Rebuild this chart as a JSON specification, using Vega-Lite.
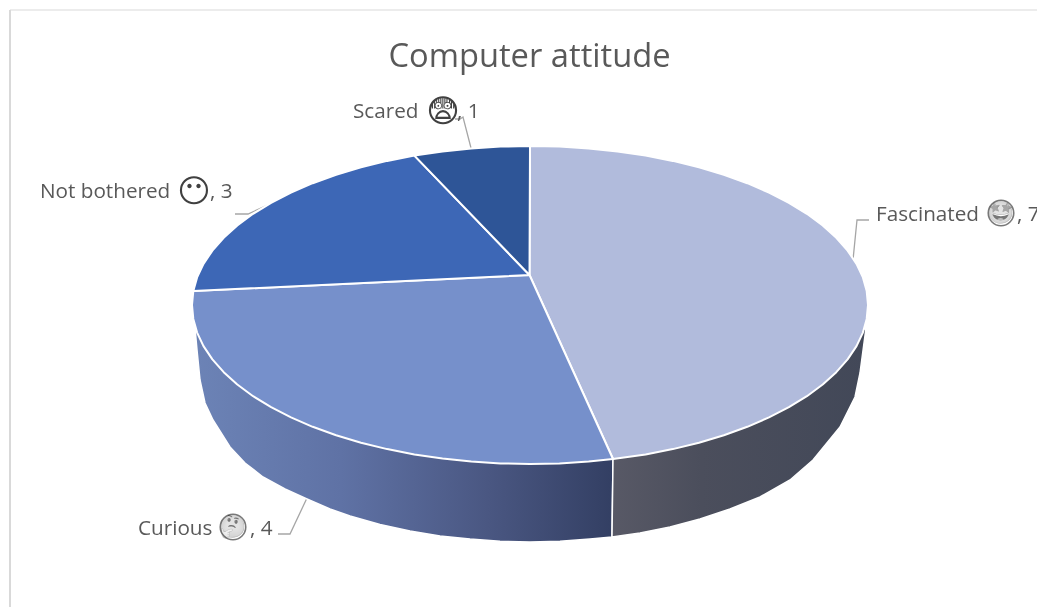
{
"$schema":"https://vega.github.io/schema/vega-lite/v6.json",
"width":1037,"height":607,"padding":0,"autosize":"none",
"background":"#ffffff",
"view":{"stroke":null},
"title":{"text":"Computer attitude","font":"Open Sans","fontSize":32.7,"fontWeight":"normal","color":"#595959","anchor":"middle","baseline":"middle","dx":11,"dy":89.5,"offset":0},
"datasets":{
"top":[
{"slice":"Fascinated","seq":0,"x":529.5,"y":275},{"slice":"Fascinated","seq":1,"x":530,"y":146},{"slice":"Fascinated","seq":2,"x":559.5,"y":146.6},{"slice":"Fascinated","seq":3,"x":588.7,"y":148.4},{"slice":"Fascinated","seq":4,"x":617.5,"y":151.4},{"slice":"Fascinated","seq":5,"x":645.6,"y":155.6},{"slice":"Fascinated","seq":6,"x":672.8,"y":160.9},{"slice":"Fascinated","seq":7,"x":699,"y":167.3},{"slice":"Fascinated","seq":8,"x":723.9,"y":174.7},{"slice":"Fascinated","seq":9,"x":747.3,"y":183.2},{"slice":"Fascinated","seq":10,"x":769,"y":192.6},{"slice":"Fascinated","seq":11,"x":788.9,"y":202.8},{"slice":"Fascinated","seq":12,"x":806.9,"y":213.8},{"slice":"Fascinated","seq":13,"x":822.7,"y":225.5},{"slice":"Fascinated","seq":14,"x":836.3,"y":237.8},{"slice":"Fascinated","seq":15,"x":847.6,"y":250.6},{"slice":"Fascinated","seq":16,"x":856.5,"y":263.9},{"slice":"Fascinated","seq":17,"x":862.9,"y":277.4},{"slice":"Fascinated","seq":18,"x":866.7,"y":291.1},{"slice":"Fascinated","seq":19,"x":868,"y":305},{"slice":"Fascinated","seq":20,"x":866.7,"y":318.9},{"slice":"Fascinated","seq":21,"x":862.9,"y":332.6},{"slice":"Fascinated","seq":22,"x":856.5,"y":346.1},{"slice":"Fascinated","seq":23,"x":847.6,"y":359.4},{"slice":"Fascinated","seq":24,"x":836.3,"y":372.2},{"slice":"Fascinated","seq":25,"x":822.7,"y":384.5},{"slice":"Fascinated","seq":26,"x":806.9,"y":396.2},{"slice":"Fascinated","seq":27,"x":788.9,"y":407.2},{"slice":"Fascinated","seq":28,"x":769,"y":417.4},{"slice":"Fascinated","seq":29,"x":747.3,"y":426.8},{"slice":"Fascinated","seq":30,"x":723.9,"y":435.3},{"slice":"Fascinated","seq":31,"x":699,"y":442.7},{"slice":"Fascinated","seq":32,"x":672.8,"y":449.1},{"slice":"Fascinated","seq":33,"x":645.6,"y":454.4},{"slice":"Fascinated","seq":34,"x":613,"y":459},{"slice":"Fascinated","seq":35,"x":529.5,"y":275},
{"slice":"Curious","seq":0,"x":529.5,"y":275},{"slice":"Curious","seq":1,"x":613,"y":459},{"slice":"Curious","seq":2,"x":588.7,"y":461.6},{"slice":"Curious","seq":3,"x":559.5,"y":463.4},{"slice":"Curious","seq":4,"x":530,"y":464},{"slice":"Curious","seq":5,"x":500.5,"y":463.4},{"slice":"Curious","seq":6,"x":471.3,"y":461.6},{"slice":"Curious","seq":7,"x":442.5,"y":458.6},{"slice":"Curious","seq":8,"x":414.4,"y":454.4},{"slice":"Curious","seq":9,"x":387.2,"y":449.1},{"slice":"Curious","seq":10,"x":361,"y":442.7},{"slice":"Curious","seq":11,"x":336.1,"y":435.3},{"slice":"Curious","seq":12,"x":312.7,"y":426.8},{"slice":"Curious","seq":13,"x":291,"y":417.4},{"slice":"Curious","seq":14,"x":271.1,"y":407.2},{"slice":"Curious","seq":15,"x":253.1,"y":396.2},{"slice":"Curious","seq":16,"x":237.3,"y":384.5},{"slice":"Curious","seq":17,"x":223.7,"y":372.2},{"slice":"Curious","seq":18,"x":212.4,"y":359.4},{"slice":"Curious","seq":19,"x":203.5,"y":346.1},{"slice":"Curious","seq":20,"x":197.1,"y":332.6},{"slice":"Curious","seq":21,"x":193.3,"y":318.9},{"slice":"Curious","seq":22,"x":192,"y":305},{"slice":"Curious","seq":23,"x":193.3,"y":291.1},{"slice":"Curious","seq":24,"x":529.5,"y":275},
{"slice":"Not bothered","seq":0,"x":529.5,"y":275},{"slice":"Not bothered","seq":1,"x":193.3,"y":291.1},{"slice":"Not bothered","seq":2,"x":197.1,"y":277.4},{"slice":"Not bothered","seq":3,"x":203.5,"y":263.9},{"slice":"Not bothered","seq":4,"x":212.4,"y":250.6},{"slice":"Not bothered","seq":5,"x":223.7,"y":237.8},{"slice":"Not bothered","seq":6,"x":237.3,"y":225.5},{"slice":"Not bothered","seq":7,"x":253.1,"y":213.8},{"slice":"Not bothered","seq":8,"x":271.1,"y":202.8},{"slice":"Not bothered","seq":9,"x":291,"y":192.6},{"slice":"Not bothered","seq":10,"x":312.7,"y":183.2},{"slice":"Not bothered","seq":11,"x":336.1,"y":174.7},{"slice":"Not bothered","seq":12,"x":361,"y":167.3},{"slice":"Not bothered","seq":13,"x":387.2,"y":160.9},{"slice":"Not bothered","seq":14,"x":414.4,"y":155.6},{"slice":"Not bothered","seq":15,"x":529.5,"y":275},
{"slice":"Scared","seq":0,"x":529.5,"y":275},{"slice":"Scared","seq":1,"x":414.4,"y":155.6},{"slice":"Scared","seq":2,"x":442.5,"y":151.4},{"slice":"Scared","seq":3,"x":471.3,"y":148.4},{"slice":"Scared","seq":4,"x":500.5,"y":146.6},{"slice":"Scared","seq":5,"x":530,"y":146},{"slice":"Scared","seq":6,"x":529.5,"y":275}
],
"wallLeft":[
{"seq":0,"x":613,"y":459},{"seq":1,"x":612,"y":537},{"seq":2,"x":590,"y":539},{"seq":3,"x":560,"y":541.3},{"seq":4,"x":530,"y":542},{"seq":5,"x":500,"y":541.3},{"seq":6,"x":470,"y":539},{"seq":7,"x":440,"y":536},{"seq":8,"x":410,"y":531},{"seq":9,"x":380,"y":524.5},{"seq":10,"x":350,"y":516},{"seq":11,"x":330,"y":509},{"seq":12,"x":307,"y":499},{"seq":13,"x":285,"y":489},{"seq":14,"x":263,"y":477},{"seq":15,"x":245,"y":463},{"seq":16,"x":230,"y":447},{"seq":17,"x":213,"y":420},{"seq":18,"x":205,"y":403},{"seq":19,"x":200,"y":380},{"seq":20,"x":197,"y":350},{"seq":21,"x":195,"y":328},{"seq":22,"x":613,"y":459}
],
"wallRight":[
{"seq":0,"x":613,"y":459},{"seq":1,"x":612,"y":537},{"seq":2,"x":640,"y":533},{"seq":3,"x":670,"y":527},{"seq":4,"x":700,"y":519},{"seq":5,"x":730,"y":509},{"seq":6,"x":760,"y":497},{"seq":7,"x":790,"y":480},{"seq":8,"x":813,"y":460},{"seq":9,"x":840,"y":427},{"seq":10,"x":855,"y":397},{"seq":11,"x":860,"y":373},{"seq":12,"x":866,"y":328},{"seq":13,"x":613,"y":459}
],
"leaders":[
{"slice":"Fascinated","seq":0,"x":869,"y":220},{"slice":"Fascinated","seq":1,"x":857,"y":220},{"slice":"Fascinated","seq":2,"x":853,"y":260},
{"slice":"Scared","seq":0,"x":455,"y":119},{"slice":"Scared","seq":1,"x":460,"y":119},{"slice":"Scared","seq":2,"x":463,"y":117},{"slice":"Scared","seq":3,"x":471,"y":148},
{"slice":"Not bothered","seq":0,"x":235,"y":214},{"slice":"Not bothered","seq":1,"x":248,"y":214},{"slice":"Not bothered","seq":2,"x":270,"y":204},
{"slice":"Curious","seq":0,"x":278,"y":534},{"slice":"Curious","seq":1,"x":290,"y":534},{"slice":"Curious","seq":2,"x":307,"y":498}
],
"names":[
{"slice":"Fascinated","label":"Fascinated","x":876,"y":214.5},
{"slice":"Curious","label":"Curious","x":138,"y":528.5},
{"slice":"Not bothered","label":"Not bothered","x":40,"y":191.5},
{"slice":"Scared","label":"Scared","x":353,"y":111.5}
],
"values":[
{"slice":"Fascinated","value":7,"label":", 7","x":1017,"y":214.5},
{"slice":"Curious","value":4,"label":", 4","x":250,"y":528.5},
{"slice":"Not bothered","value":3,"label":", 3","x":210,"y":191.5},
{"slice":"Scared","value":1,"label":", 1","x":457,"y":111.5}
],
"outlineFaces":[
{"slice":"Not bothered","label":"😶","x":194,"y":192},
{"slice":"Scared","label":"😨","x":443,"y":112}
],
"colourFaces":[
{"slice":"Fascinated","label":"🤩","x":1001,"y":213},
{"slice":"Curious","label":"🤔","x":233,"y":527}
],
"frameTop":[{"x":10,"y":10,"x2":1037}],
"frameLeft":[{"x":10,"y":10,"y2":607}]
},
"encoding":{
"x":{"field":"x","type":"quantitative","scale":{"domain":[0,1037],"nice":false,"zero":false},"axis":null},
"y":{"field":"y","type":"quantitative","scale":{"domain":[607,0],"nice":false,"zero":false},"axis":null}
},
"layer":[
{"data":{"name":"frameTop"},"mark":{"type":"rule","color":"#d9d9d9","strokeWidth":1},"encoding":{"x2":{"field":"x2"}}},
{"data":{"name":"frameLeft"},"mark":{"type":"rule","color":"#d9d9d9","strokeWidth":2},"encoding":{"y2":{"field":"y2"}}},
{"data":{"name":"leaders"},"mark":{"type":"line","color":"#a6a6a6","strokeWidth":1.3},"encoding":{"detail":{"field":"slice"},"order":{"field":"seq"}}},
{"data":{"name":"wallLeft"},"mark":{"type":"line","stroke":"#ffffff","strokeWidth":1.5,"fill":{"gradient":"linear","x1":0,"y1":0,"x2":1,"y2":0,"stops":[{"offset":0,"color":"#6c83b6"},{"offset":0.35,"color":"#5f72a5"},{"offset":0.7,"color":"#4a5782"},{"offset":1,"color":"#333f63"}]}},"encoding":{"order":{"field":"seq"}}},
{"data":{"name":"wallRight"},"mark":{"type":"line","stroke":"#ffffff","strokeWidth":1.5,"fill":{"gradient":"linear","x1":0,"y1":0,"x2":1,"y2":0,"stops":[{"offset":0,"color":"#585966"},{"offset":0.35,"color":"#4b4e5c"},{"offset":1,"color":"#424858"}]}},"encoding":{"order":{"field":"seq"}}},
{"data":{"name":"top"},"mark":{"type":"line","stroke":"#ffffff","strokeWidth":2,"strokeJoin":"round"},"encoding":{"fill":{"field":"slice","type":"nominal","legend":null,"scale":{"domain":["Fascinated","Curious","Not bothered","Scared"],"range":["#b1bbdc","#7690cb","#3d67b6","#2e5597"]}},"order":{"field":"seq"}}},
{"data":{"name":"names"},"mark":{"type":"text","font":"Open Sans","fontSize":20.7,"color":"#595959","align":"left","baseline":"middle"},"encoding":{"text":{"field":"label"}}},
{"data":{"name":"values"},"mark":{"type":"text","font":"Open Sans","fontSize":20.7,"color":"#595959","align":"left","baseline":"middle"},"encoding":{"text":{"field":"label"}}},
{"data":{"name":"outlineFaces"},"mark":{"type":"text","font":"DejaVu Sans","fontSize":32,"color":"#404040","align":"center","baseline":"middle"},"encoding":{"text":{"field":"label"}}},
{"data":{"name":"colourFaces"},"mark":{"type":"text","font":"Noto Color Emoji","fontSize":22,"align":"center","baseline":"middle","blend":"luminosity"},"encoding":{"text":{"field":"label"}}},
{"data":{"name":"colourFaces"},"mark":{"type":"point","shape":"circle","filled":true,"size":620,"fill":"#ffffff","opacity":0.35,"stroke":null}},
{"data":{"name":"colourFaces"},"mark":{"type":"point","shape":"circle","filled":false,"size":650,"stroke":"#404040","strokeWidth":1.6}}
]
}
